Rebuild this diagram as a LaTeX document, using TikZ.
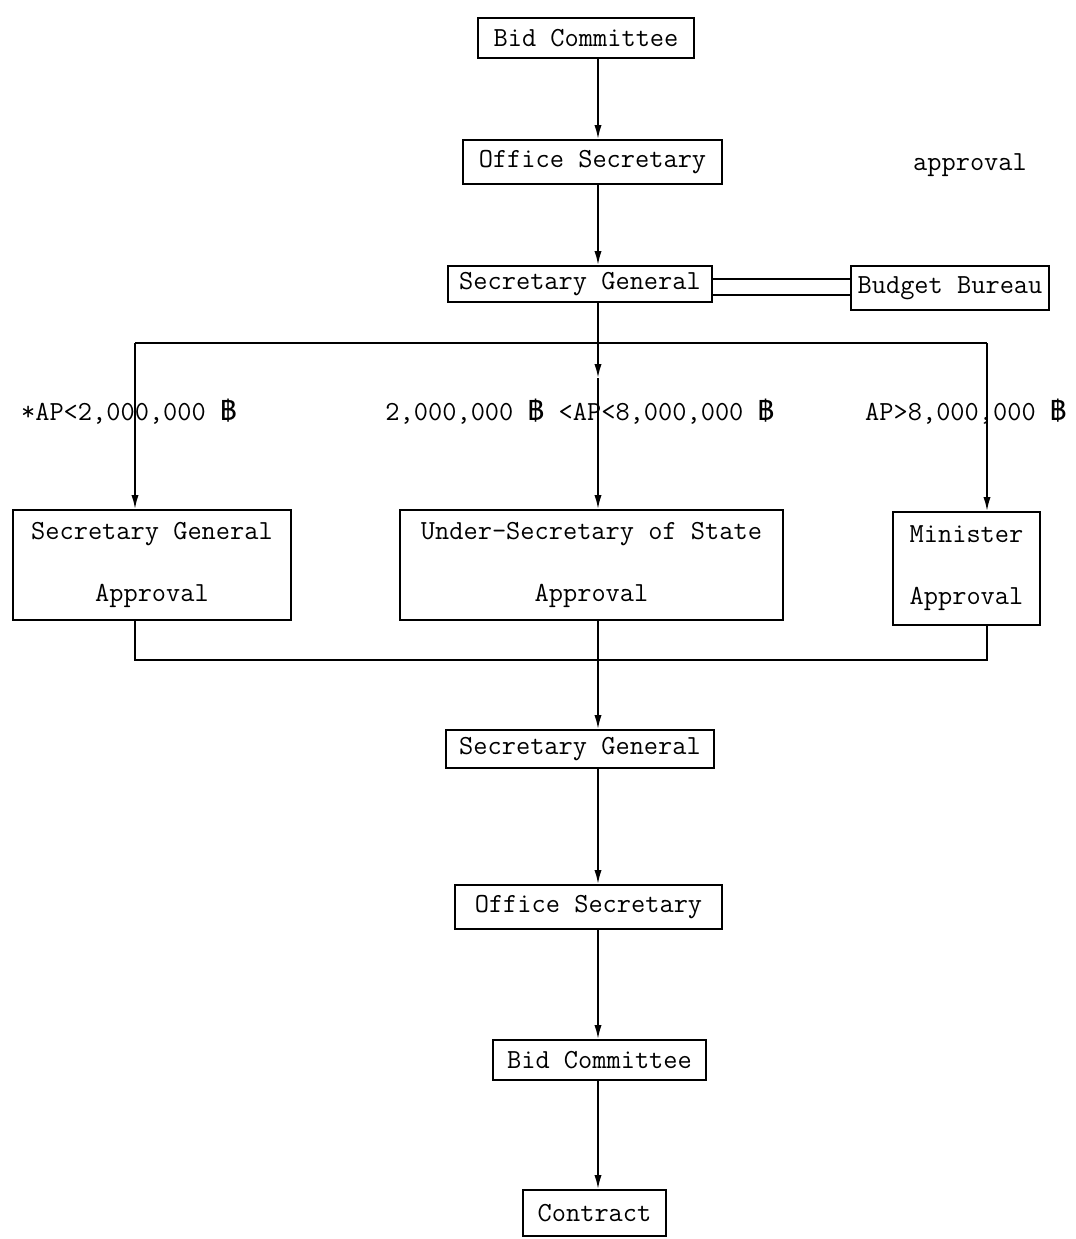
\documentclass[tikz,border=0pt]{standalone}
\usepackage{fontspec}
\newfontfamily\thaifont[Script=Thai]{Loma}
\newcommand\bahtsign{{\thaifont ฿}}
\usetikzlibrary{arrows.meta}

\begin{document}
\begin{tikzpicture}[x=0.5pt,y=-0.5pt,
  font=\ttfamily\fontsize{13.8}{17}\selectfont,
  box/.style={draw,line width=0.9pt,inner sep=0pt,align=center},
  flow/.style={line width=0.9pt},
  arr/.style={flow,-{Latex[length=7pt,width=3.6pt]}},
  lbl/.style={inner sep=0pt}]

\useasboundingbox (0,0) rectangle (1076,1239);

% spine of the flow
\coordinate (sp) at (598,0);

% upper chain
\node[box,minimum width=108pt,minimum height=20pt] (bc1) at (586,38) {Bid Committee};
\node[box,minimum width=129.5pt,minimum height=22pt] (os1) at (592.5,162) {Office Secretary};
\node[box,minimum width=132pt,minimum height=18pt] (sg1) at (580,284) {Secretary General};
\node[box,minimum width=99pt,minimum height=22pt] (bb) at (950,288) {Budget Bureau};
\node[lbl] (appr) at (970,165) {approval};

% approval levels
\node[box,minimum width=139pt,minimum height=55pt] (sga) at (152,565) {Secretary General\\[14pt]Approval};
\node[box,minimum width=191.5pt,minimum height=55pt] (usa) at (591.5,565) {Under-Secretary of State\\[14pt]Approval};
\node[box,minimum width=73.5pt,minimum height=56.5pt] (mina) at (966.5,568.5) {Minister\\[14pt]Approval};

\node[lbl] (lab1) at (129,412) {*AP<2,000,000 \bahtsign};
\node[lbl] (lab2) at (580,412) {2,000,000 \bahtsign{} <AP<8,000,000 \bahtsign};
\node[lbl] (lab3) at (966,412) {AP>8,000,000 \bahtsign};

% lower chain
\node[box,minimum width=134pt,minimum height=19pt] (sg2) at (580,749) {Secretary General};
\node[box,minimum width=133.5pt,minimum height=22pt] (os2) at (588.5,907) {Office Secretary};
\node[box,minimum width=106.5pt,minimum height=20pt] (bc2) at (599.5,1060) {Bid Committee};
\node[box,minimum width=71.5pt,minimum height=23pt] (ct) at (594.5,1213) {Contract};

% branch and merge points
\coordinate (tl) at (135,343);
\coordinate (tr) at (987,343);
\coordinate (midtip) at (598,378);
\coordinate (bl) at (135,660);
\coordinate (br) at (987,660);

% connectors
\draw[arr] (bc1.south -| sp) -- (os1.north -| sp);
\draw[arr] (os1.south -| sp) -- (sg1.north -| sp);
\draw[flow] (sg1.east |- 0,279) -- (bb.west |- 0,279);
\draw[flow] (sg1.east |- 0,295) -- (bb.west |- 0,295);

\draw[arr] (sg1.south -| sp) -- (midtip);
\draw[arr] (midtip) -- (usa.north -| sp);
\draw[flow] (tl) -- (tr);
\draw[arr] (tl) -- (sga.north -| tl);
\draw[arr] (tr) -- (mina.north -| tr);

\draw[flow] (sga.south -| bl) -- (bl) -- (br) -- (mina.south -| br);
\draw[arr] (usa.south -| sp) -- (sg2.north -| sp);
\draw[arr] (sg2.south -| sp) -- (os2.north -| sp);
\draw[arr] (os2.south -| sp) -- (bc2.north -| sp);
\draw[arr] (bc2.south -| sp) -- (ct.north -| sp);

\end{tikzpicture}
\end{document}
